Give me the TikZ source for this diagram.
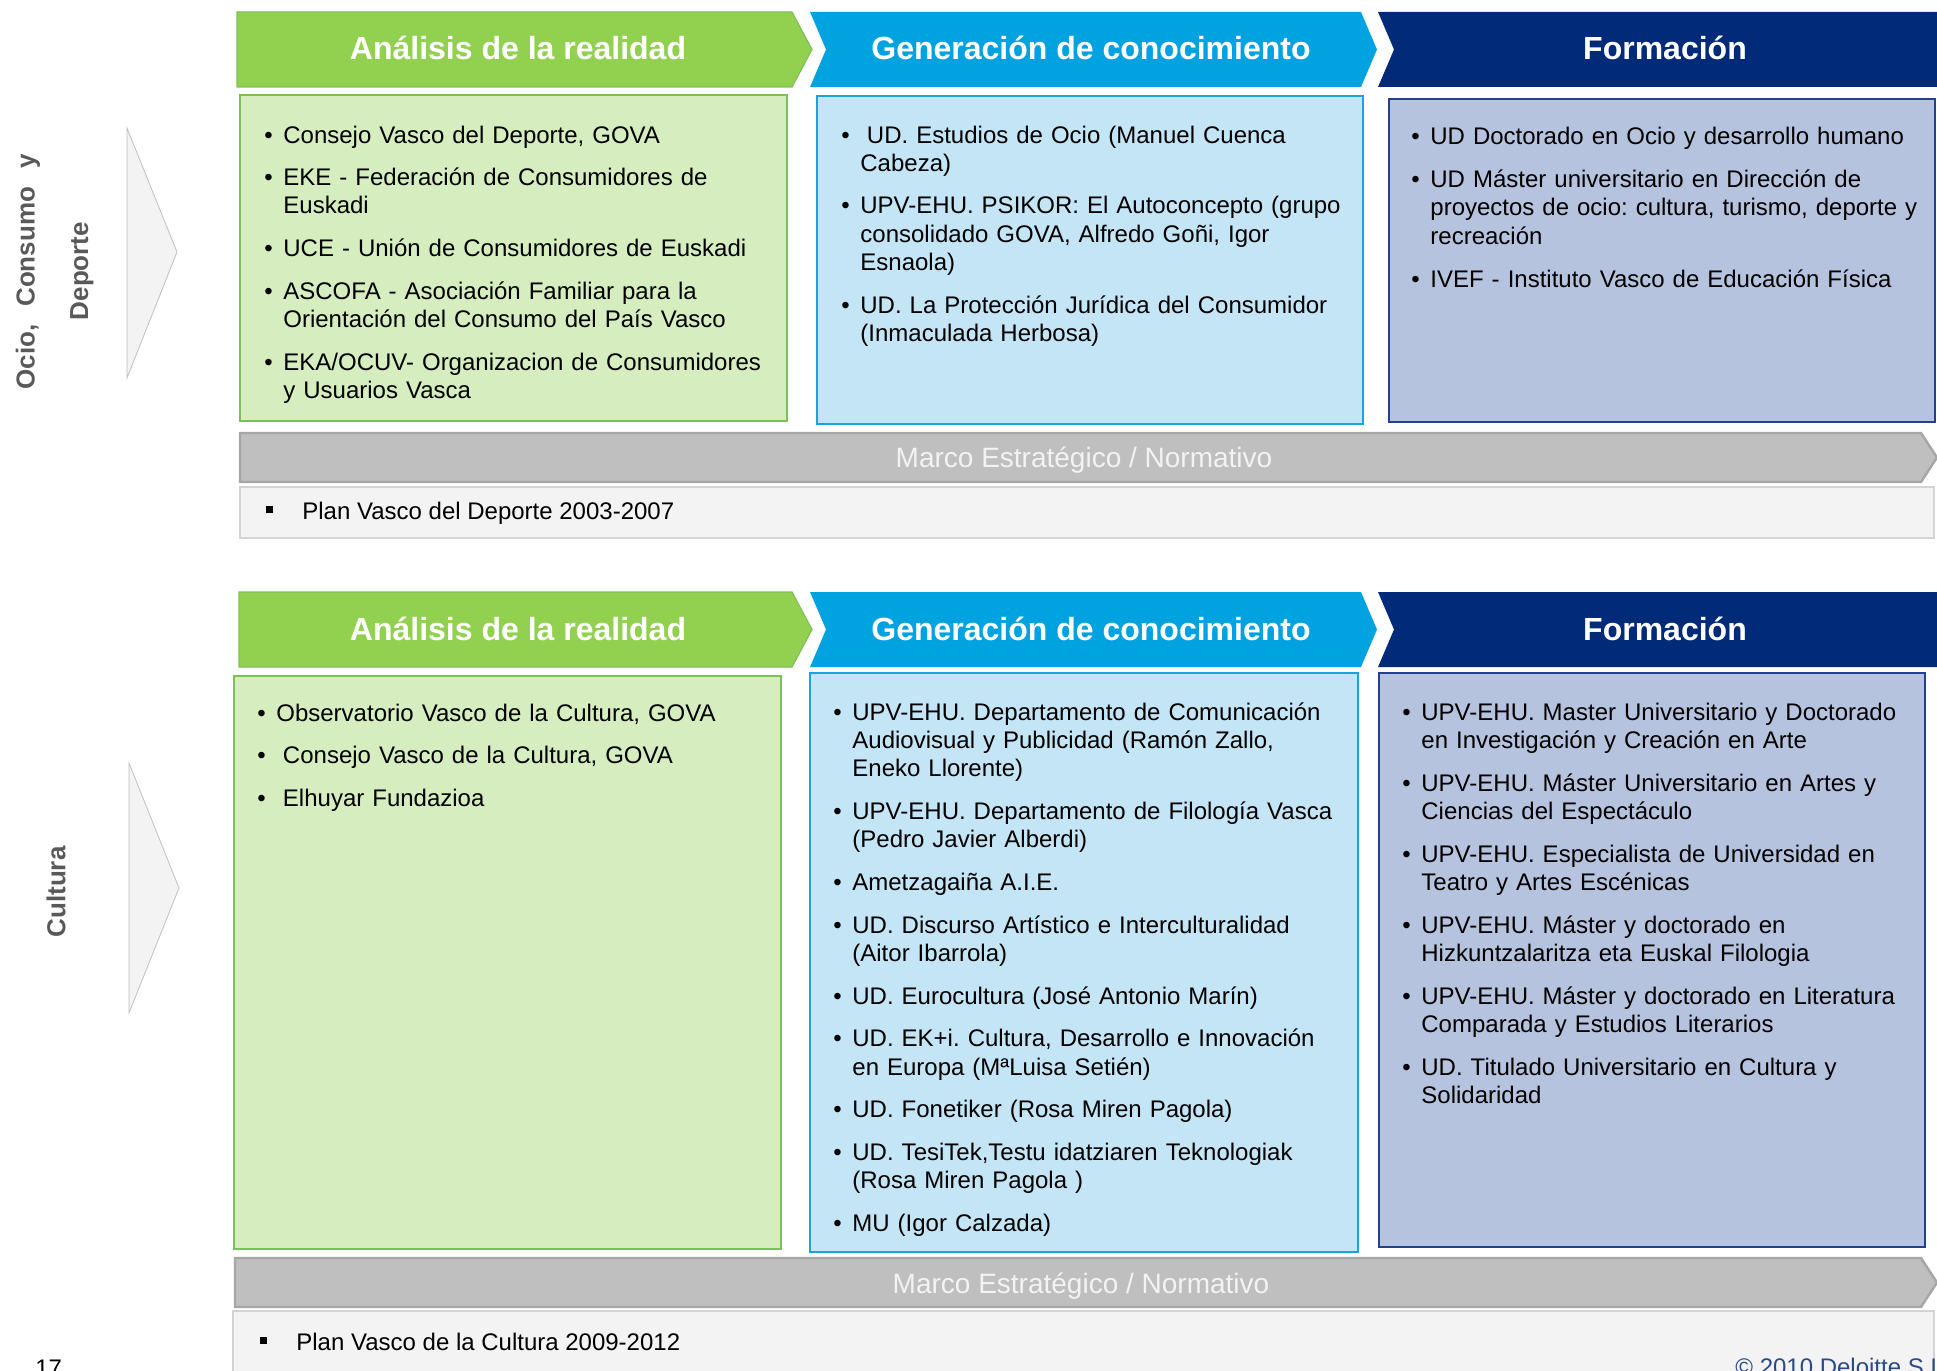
\documentclass[tikz,border=0pt]{standalone}
\usepackage{fontspec}
\setmainfont{Liberation Sans}
\usepackage{tikz}
\usetikzlibrary{calc}
\frenchspacing

\definecolor{verde}{HTML}{92D050}
\definecolor{verdeborde}{HTML}{7CC156}
\definecolor{verdefondo}{HTML}{D5EDBF}
\definecolor{azul}{HTML}{00A3E0}
\definecolor{azulborde}{HTML}{16A5E1}
\definecolor{azulfondo}{HTML}{C3E5F6}
\definecolor{marino}{HTML}{012A78}
\definecolor{marinoborde}{HTML}{24408A}
\definecolor{marinofondo}{HTML}{B6C3DE}
\definecolor{grisbarra}{HTML}{BFBFBF}
\definecolor{grisborde}{HTML}{A6A6A6}
\definecolor{grisclaro}{HTML}{F3F3F3}
\definecolor{grislinea}{HTML}{D3D3D3}
\definecolor{gristexto}{HTML}{595959}
\definecolor{copyazul}{HTML}{2A4A8A}

% one bullet entry, hanging indent for the wrapped lines
\newcommand{\pitem}[1]{\hangindent=9.5pt\hangafter=1\noindent\makebox[9.5pt][l]{\textbullet}#1\par}
\newcommand{\cuadro}{\raisebox{3pt}{\rule{3.5pt}{3.5pt}}}

\tikzset{
  cabecera/.style={anchor=base, text=white, inner sep=0pt, font=\fontsize{16}{19}\selectfont\bfseries},
  lista/.style={anchor=base west, text width=280pt, inner sep=0pt,
    font=\fontsize{12}{14.2}\selectfont, execute at begin node={\setlength\parskip{7.1pt}}},
  lado/.style={rotate=90, text=gristexto, inner sep=0pt, font=\fontsize{13}{15}\selectfont\bfseries},
  flecha/.style={fill=grisclaro, draw=grisbarra, line width=0.4pt},
  marco/.style={fill=grisbarra, draw=grisborde, line width=1.2pt},
  marcotexto/.style={anchor=base, inner sep=0pt, text=grisclaro, font=\fontsize{14}{16}\selectfont},
  plan/.style={fill=grisclaro, draw=grislinea, line width=1.2pt},
  plantexto/.style={anchor=base west, inner sep=0pt, font=\fontsize{12}{14}\selectfont}
}

\begin{document}
\begin{tikzpicture}[x=0.5pt, y=-0.5pt]
\useasboundingbox (0,0) rectangle (1937,1370);

% ---------- Ocio, Consumo y Deporte ----------
\node[lado] (ocio) at (28,272) {\makebox[117.5pt][s]{Ocio, Consumo y}};
\node[lado] (deporte) at (82,271) {Deporte};
\draw[flecha] (127,128) -- (177,252) -- (127,378) -- cycle;

% headers
\fill[verde, draw=verdeborde, line width=0.6pt] (237,12) -- (792,12) -- (812,49.5) -- (792,87) -- (237,87) -- cycle;
\fill[azul] (810,12) -- (1361,12) -- (1377,49.5) -- (1361,87) -- (810,87) -- (826,49.5) -- cycle;
\fill[marino] (1378,12) -- (1937,12) -- (1937,87) -- (1378,87) -- (1394,49.5) -- cycle;
\node[cabecera] (analisisA) at (518,60) {Análisis de la realidad};
\node[cabecera] (generacionA) at (1091,60) {Generación de conocimiento};
\node[cabecera] (formacionA) at (1665,60) {Formación};

% boxes
\draw[fill=verdefondo, draw=verdeborde, line width=1.2pt] (240,95) rectangle (787,421);
\draw[fill=azulfondo, draw=azulborde, line width=1.2pt] (817,96) rectangle (1363,424);
\draw[fill=marinofondo, draw=marinoborde, line width=1.2pt] (1389,99) rectangle (1935,422);

\node[lista] (realidadA) at (264,143) {%
  \pitem{Consejo Vasco del Deporte, GOVA}
  \pitem{EKE - Federación de Consumidores de\newline Euskadi}
  \pitem{UCE - Unión de Consumidores de Euskadi}
  \pitem{ASCOFA - Asociación Familiar para la\newline Orientación del Consumo del País Vasco}
  \pitem{EKA/OCUV- Organizacion de Consumidores\newline y Usuarios Vasca}};
\node[lista] (conocimientoA) at (841,143) {%
  \pitem{\hspace{3.3pt}UD. Estudios de Ocio (Manuel Cuenca\newline Cabeza)}
  \pitem{UPV-EHU. PSIKOR: El Autoconcepto (grupo\newline consolidado GOVA, Alfredo Goñi, Igor\newline Esnaola)}
  \pitem{UD. La Protección Jurídica del Consumidor\newline (Inmaculada Herbosa)}};
\node[lista] (formacionlistaA) at (1411,145) {%
  \pitem{UD Doctorado en Ocio y desarrollo humano}
  \pitem{UD Máster universitario en Dirección de\newline proyectos de ocio: cultura, turismo, deporte y\newline recreación}
  \pitem{IVEF - Instituto Vasco de Educación Física}};

% marco + plan
\draw[marco] (240,433) -- (1921,433) -- (1937,457.5) -- (1921,482) -- (240,482) -- cycle;
\node[marcotexto] (marcoA) at (1084,467) {Marco Estratégico / Normativo};
\draw[plan] (240,487) rectangle (1934,538);
\node[plantexto] (planA) at (266,519) {\cuadro\hspace{14.5pt}Plan Vasco del Deporte 2003-2007};

% ---------- Cultura ----------
\node[lado] (cultura) at (56,892) {Cultura};
\draw[flecha] (129,763) -- (179,888) -- (129,1013) -- cycle;

\fill[verde, draw=verdeborde, line width=0.6pt] (239,592) -- (792,592) -- (812,629.5) -- (792,667) -- (239,667) -- cycle;
\fill[azul] (810,592) -- (1361,592) -- (1377,629.5) -- (1361,667) -- (810,667) -- (826,629.5) -- cycle;
\fill[marino] (1378,592) -- (1937,592) -- (1937,667) -- (1378,667) -- (1394,629.5) -- cycle;
\node[cabecera] (analisisB) at (518,640) {Análisis de la realidad};
\node[cabecera] (generacionB) at (1091,640) {Generación de conocimiento};
\node[cabecera] (formacionB) at (1665,640) {Formación};

\draw[fill=verdefondo, draw=verdeborde, line width=1.2pt] (234,676) rectangle (781,1249);
\draw[fill=azulfondo, draw=azulborde, line width=1.2pt] (810,673) rectangle (1358,1252);
\draw[fill=marinofondo, draw=marinoborde, line width=1.2pt] (1379,673) rectangle (1925,1247);

\node[lista] (realidadB) at (257,721) {%
  \pitem{Observatorio Vasco de la Cultura, GOVA}
  \pitem{\hspace{3.3pt}Consejo Vasco de la Cultura, GOVA}
  \pitem{\hspace{3.3pt}Elhuyar Fundazioa}};
\node[lista] (conocimientoB) at (833,720) {%
  \pitem{UPV-EHU. Departamento de Comunicación\newline Audiovisual y Publicidad (Ramón Zallo,\newline Eneko Llorente)}
  \pitem{UPV-EHU. Departamento de Filología Vasca\newline (Pedro Javier Alberdi)}
  \pitem{Ametzagaiña A.I.E.}
  \pitem{UD. Discurso Artístico e Interculturalidad\newline (Aitor Ibarrola)}
  \pitem{UD. Eurocultura (José Antonio Marín)}
  \pitem{UD. EK+i. Cultura, Desarrollo e Innovación\newline en Europa (MªLuisa Setién)}
  \pitem{UD. Fonetiker (Rosa Miren Pagola)}
  \pitem{UD. TesiTek,Testu idatziaren Teknologiak\newline (Rosa Miren Pagola )}
  \pitem{MU (Igor Calzada)}};
\node[lista] (formacionlistaB) at (1402,720) {%
  \pitem{UPV-EHU. Master Universitario y Doctorado\newline en Investigación y Creación en Arte}
  \pitem{UPV-EHU. Máster Universitario en Artes y\newline Ciencias del Espectáculo}
  \pitem{UPV-EHU. Especialista de Universidad en\newline Teatro y Artes Escénicas}
  \pitem{UPV-EHU. Máster y doctorado en\newline Hizkuntzalaritza eta Euskal Filologia}
  \pitem{UPV-EHU. Máster y doctorado en Literatura\newline Comparada y Estudios Literarios}
  \pitem{UD. Titulado Universitario en Cultura y\newline Solidaridad}};

\draw[marco] (235,1258) -- (1921,1258) -- (1937,1282.5) -- (1921,1307) -- (235,1307) -- cycle;
\node[marcotexto] (marcoB) at (1081,1293) {Marco Estratégico / Normativo};
\draw[plan] (233,1311) rectangle (1934,1400);
\node[plantexto] (planB) at (260,1350) {\cuadro\hspace{14.5pt}Plan Vasco de la Cultura 2009-2012};

% page footer
\node[plantexto] (pagina) at (35,1376) {17};
\node[plantexto, text=copyazul] (copy) at (1735,1375) {© 2010 Deloitte S.L.};
\end{tikzpicture}
\end{document}
